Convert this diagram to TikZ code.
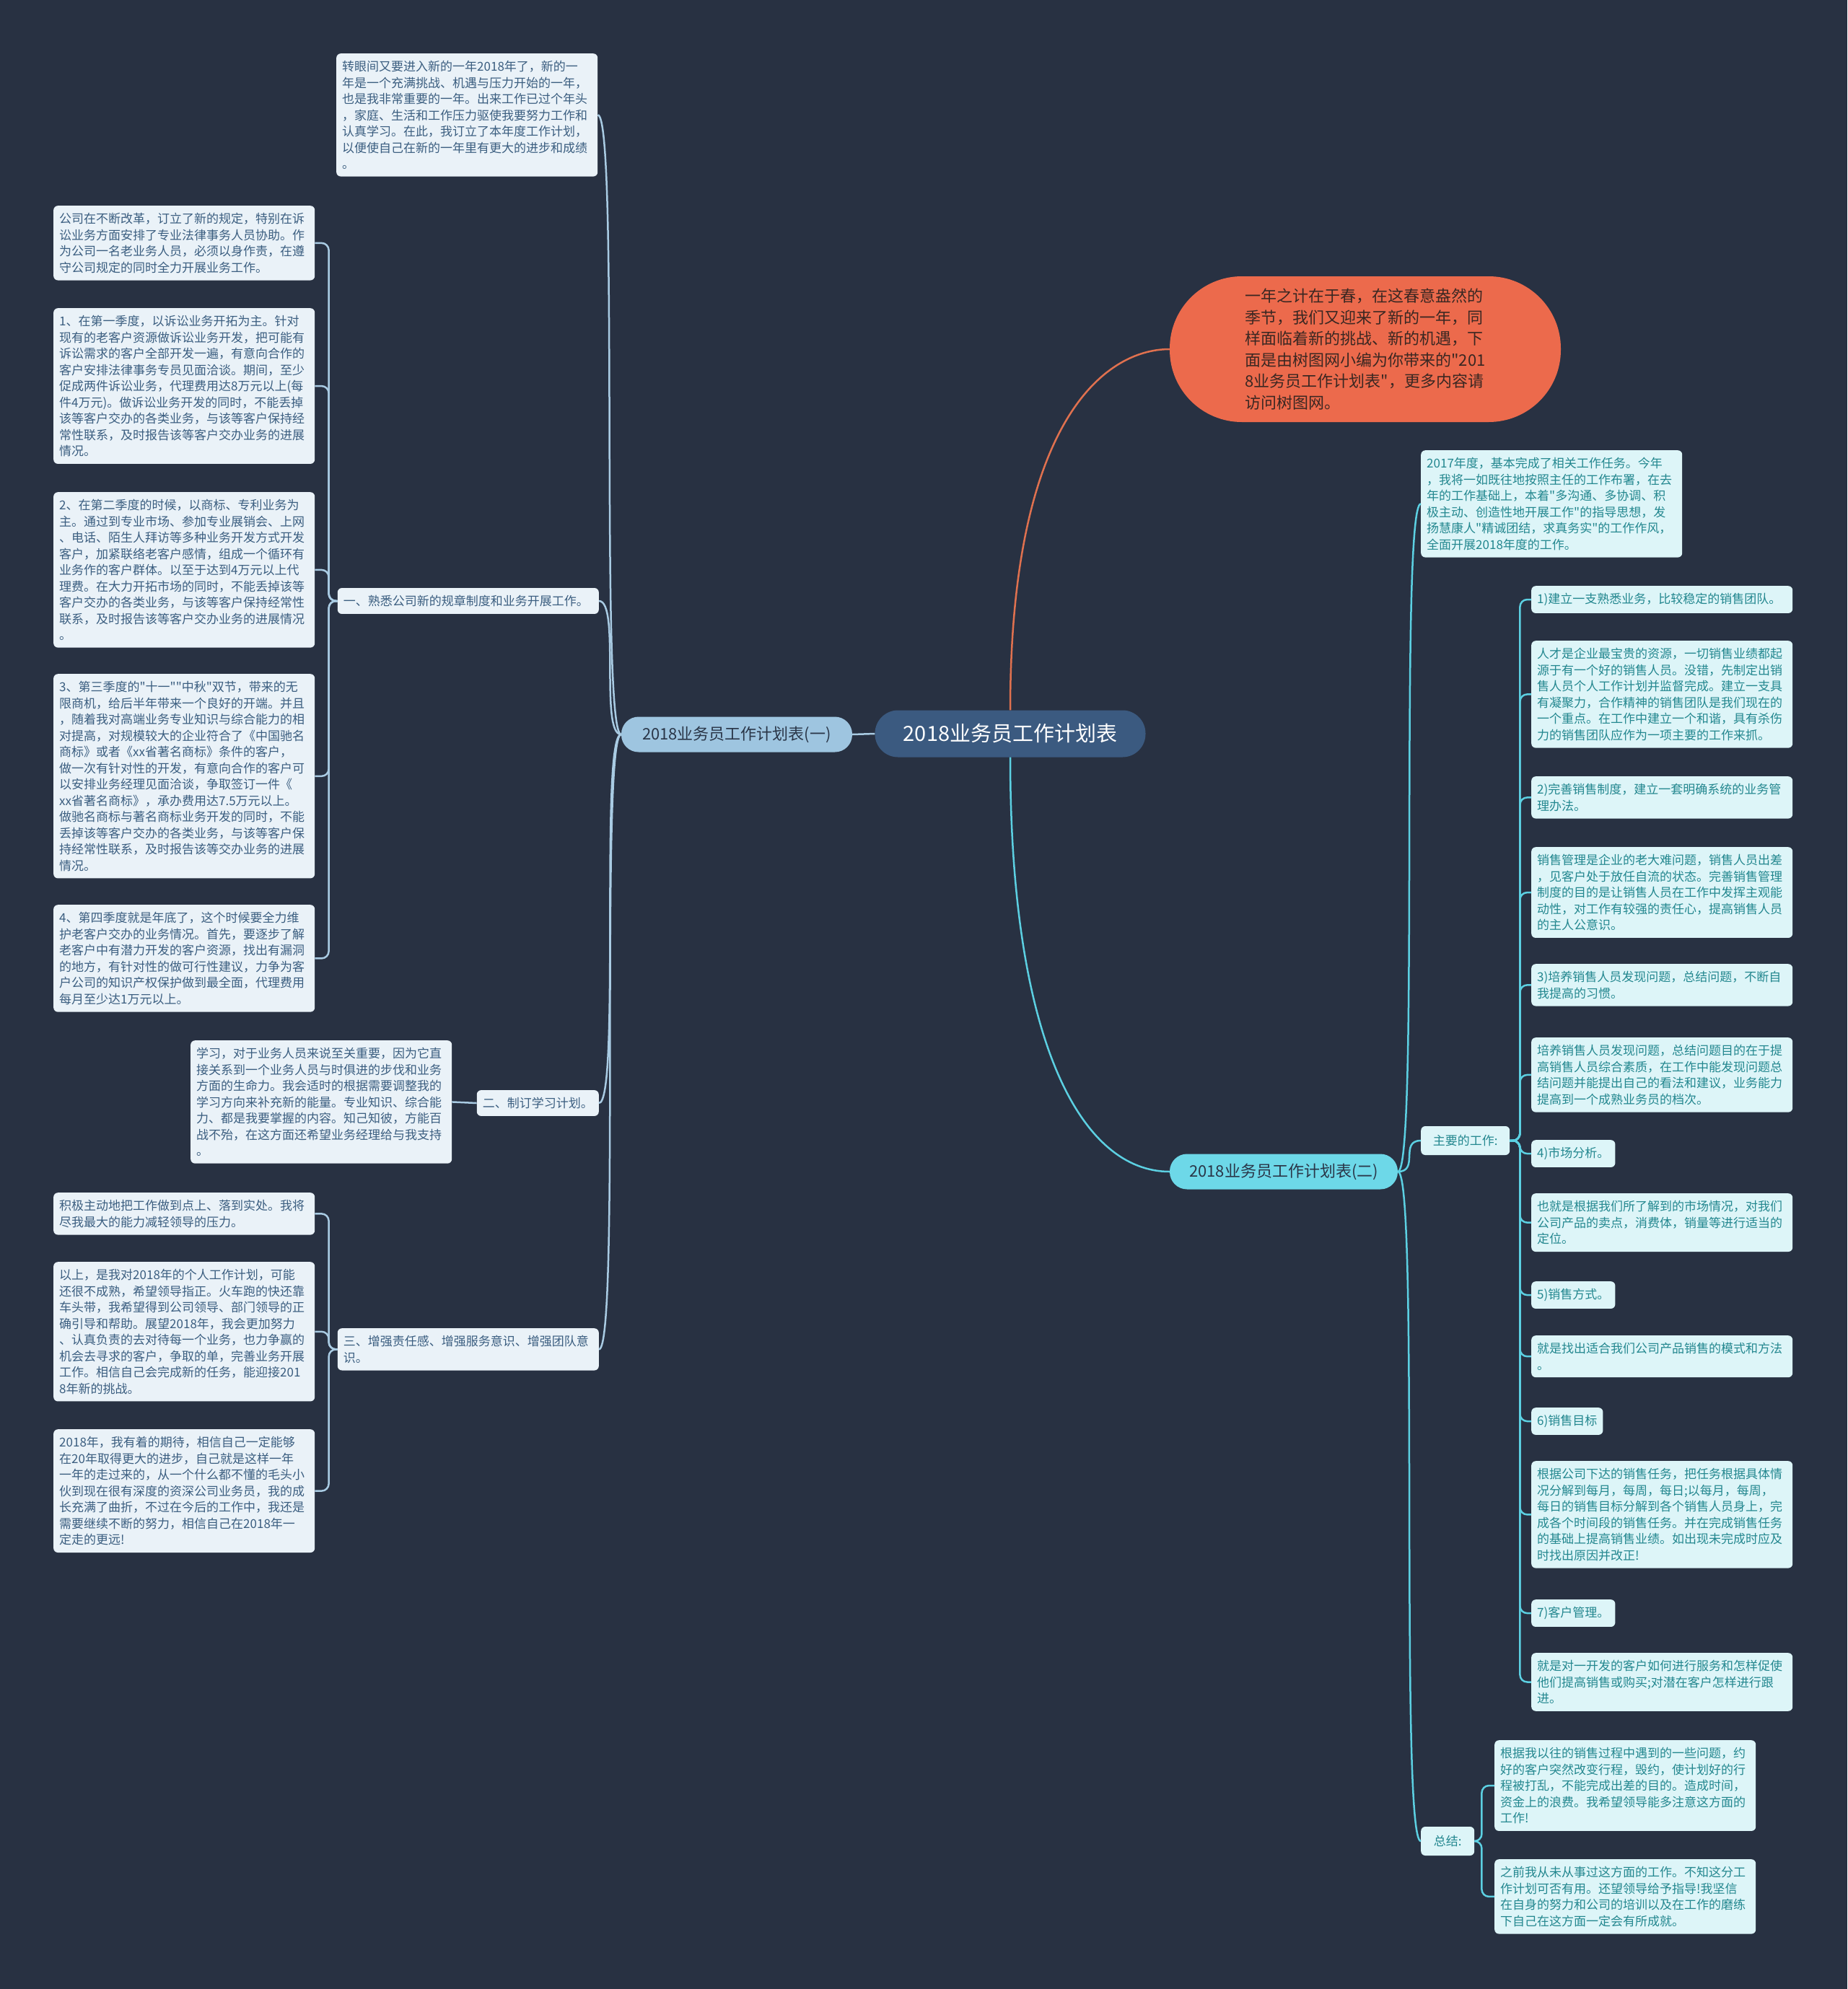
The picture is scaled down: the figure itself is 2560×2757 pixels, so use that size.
\documentclass[tikz,border=0pt]{standalone}
\usepackage{fontspec}
\setmainfont{Noto Sans CJK SC}[Ligatures=TeXOff]
\usetikzlibrary{calc}
\setlength{\parindent}{0pt}

\definecolor{fondo}{HTML}{283142}
\definecolor{cajaizq}{HTML}{EAF2F8}
\definecolor{textoizq}{HTML}{3B5E80}
\definecolor{lineaizq}{HTML}{A9CBE3}
\definecolor{cajader}{HTML}{DDF5F8}
\definecolor{textoder}{HTML}{23878F}
\definecolor{lineader}{HTML}{5CD0E2}
\definecolor{colraiz}{HTML}{3B5A80}
\definecolor{colrama1}{HTML}{9EC5E0}
\definecolor{colrama2}{HTML}{6DD8E8}
\definecolor{colnota}{HTML}{EC6A4C}
\definecolor{lineanota}{HTML}{E0714F}
\definecolor{textonota}{HTML}{3A2722}
\definecolor{textorama}{HTML}{2A3648}

\begin{document}
\begin{tikzpicture}[x=1pt, y=-1pt,
    % ====================
    % ESTILOS DE NODOS
    % ====================
    base_izq/.style={
        rectangle, rounded corners=6pt,
        fill=cajaizq, text=textoizq,
        align=left, font=\fontsize{17}{22.5}\selectfont,
        inner xsep=8pt, inner ysep=10pt
    },
    caja_izq/.style={base_izq, text width=346pt, anchor=north west},
    base_der/.style={
        rectangle, rounded corners=6pt,
        fill=cajader, text=textoder,
        align=left, font=\fontsize{17}{22.5}\selectfont,
        inner xsep=8pt, inner ysep=10pt
    },
    caja_der/.style={base_der, text width=346pt, anchor=north west},
    corta_der/.style={base_der, anchor=north west},
    etiqueta/.style={base_der, inner xsep=11pt, minimum height=40pt, anchor=west},
    raiz/.style={
        rectangle, rounded corners=32pt,
        fill=colraiz, text=white,
        font=\fontsize{29}{34}\selectfont,
        minimum width=375pt, minimum height=65pt
    },
    rama_uno/.style={
        rectangle, rounded corners=24pt,
        fill=colrama1, text=textorama,
        font=\fontsize{22}{26}\selectfont,
        minimum width=320pt, minimum height=49pt
    },
    rama_dos/.style={rama_uno, fill=colrama2, minimum width=316pt},
    nota/.style={
        rectangle, rounded corners=100pt,
        fill=colnota, text=textonota, align=left,
        font=\fontsize{22}{29.5}\selectfont,
        minimum width=542pt, minimum height=202pt
    },
    linea_izq/.style={draw=lineaizq, line width=2.5pt},
    linea_der/.style={draw=lineader, line width=2.5pt},
    linea_nota/.style={draw=lineanota, line width=2.5pt}
]

% ====================
% FONDO
% ====================
\fill[fondo] (0,0) rectangle (2560,2757);
\useasboundingbox (0,0) rectangle (2560,2757);

% ====================
% NODOS CENTRALES
% ====================
\node[raiz] (raiz) at (1400,1017) {2018业务员工作计划表};
\node[rama_uno] (B1) at (1021,1018) {2018业务员工作计划表(一)};
\node[rama_dos] (B2) at (1779,1624) {2018业务员工作计划表(二)};
\node[nota] (nota) at (1892,484) {一年之计在于春，在这春意盎然的\\
季节，我们又迎来了新的一年，同\\
样面临着新的挑战、新的机遇，下\\
面是由树图网小编为你带来的"201\\
8业务员工作计划表"，更多内容请\\
访问树图网。};

% ====================
% RAMA IZQUIERDA (x = 74 / 466)
% ====================
\node[caja_izq] (T0) at (466,74) {转眼间又要进入新的一年2018年了，新的一\\
年是一个充满挑战、机遇与压力开始的一年，\\
也是我非常重要的一年。出来工作已过个年头\\
，家庭、生活和工作压力驱使我要努力工作和\\
认真学习。在此，我订立了本年度工作计划，\\
以便使自己在新的一年里有更大的进步和成绩\\
。};

\node[caja_izq, anchor=east] (M1) at (830,833) {一、熟悉公司新的规章制度和业务开展工作。};
\node[base_izq, anchor=east] (M2) at (830,1529) {二、制订学习计划。};
\node[caja_izq, anchor=north east] (M3) at (830,1841) {三、增强责任感、增强服务意识、增强团队意\\
识。};

\node[caja_izq] (L1) at (74,285) {公司在不断改革，订立了新的规定，特别在诉\\
讼业务方面安排了专业法律事务人员协助。作\\
为公司一名老业务人员，必须以身作责，在遵\\
守公司规定的同时全力开展业务工作。};
\node[caja_izq] (L2) at (74,427) {1、在第一季度，以诉讼业务开拓为主。针对\\
现有的老客户资源做诉讼业务开发，把可能有\\
诉讼需求的客户全部开发一遍，有意向合作的\\
客户安排法律事务专员见面洽谈。期间，至少\\
促成两件诉讼业务，代理费用达8万元以上(每\\
件4万元)。做诉讼业务开发的同时，不能丢掉\\
该等客户交办的各类业务，与该等客户保持经\\
常性联系，及时报告该等客户交办业务的进展\\
情况。};
\node[caja_izq] (L3) at (74,682) {2、在第二季度的时候，以商标、专利业务为\\
主。通过到专业市场、参加专业展销会、上网\\
、电话、陌生人拜访等多种业务开发方式开发\\
客户，加紧联络老客户感情，组成一个循环有\\
业务作的客户群体。以至于达到4万元以上代\\
理费。在大力开拓市场的同时，不能丢掉该等\\
客户交办的各类业务，与该等客户保持经常性\\
联系，及时报告该等客户交办业务的进展情况\\
。};
\node[caja_izq] (L4) at (74,934) {3、第三季度的"十一""中秋"双节，带来的无\\
限商机，给后半年带来一个良好的开端。并且\\
，随着我对高端业务专业知识与综合能力的相\\
对提高，对规模较大的企业符合了《中国驰名\\
商标》或者《xx省著名商标》条件的客户，\\
做一次有针对性的开发，有意向合作的客户可\\
以安排业务经理见面洽谈，争取签订一件《\\
xx省著名商标》，承办费用达7.5万元以上。\\
做驰名商标与著名商标业务开发的同时，不能\\
丢掉该等客户交办的各类业务，与该等客户保\\
持经常性联系，及时报告该等交办业务的进展\\
情况。};
\node[caja_izq] (L5) at (74,1254) {4、第四季度就是年底了，这个时候要全力维\\
护老客户交办的业务情况。首先，要逐步了解\\
老客户中有潜力开发的客户资源，找出有漏洞\\
的地方，有针对性的做可行性建议，力争为客\\
户公司的知识产权保护做到最全面，代理费用\\
每月至少达1万元以上。};

\node[caja_izq] (L6) at (264,1442) {学习，对于业务人员来说至关重要，因为它直\\
接关系到一个业务人员与时俱进的步伐和业务\\
方面的生命力。我会适时的根据需要调整我的\\
学习方向来补充新的能量。专业知识、综合能\\
力、都是我要掌握的内容。知己知彼，方能百\\
战不殆，在这方面还希望业务经理给与我支持\\
。};

\node[caja_izq] (L7) at (74,1653) {积极主动地把工作做到点上、落到实处。我将\\
尽我最大的能力减轻领导的压力。};
\node[caja_izq] (L8) at (74,1749) {以上，是我对2018年的个人工作计划，可能\\
还很不成熟，希望领导指正。火车跑的快还靠\\
车头带，我希望得到公司领导、部门领导的正\\
确引导和帮助。展望2018年，我会更加努力\\
、认真负责的去对待每一个业务，也力争赢的\\
机会去寻求的客户，争取的单，完善业务开展\\
工作。相信自己会完成新的任务，能迎接201\\
8年新的挑战。};
\node[caja_izq] (L9) at (74,1981) {2018年，我有着的期待，相信自己一定能够\\
在20年取得更大的进步，自己就是这样一年\\
一年的走过来的，从一个什么都不懂的毛头小\\
伙到现在很有深度的资深公司业务员，我的成\\
长充满了曲折，不过在今后的工作中，我还是\\
需要继续不断的努力，相信自己在2018年一\\
定走的更远!};

% ====================
% RAMA DERECHA (x = 1969 / 2122)
% ====================
\node[caja_der] (R0) at (1969,624) {2017年度，基本完成了相关工作任务。今年\\
，我将一如既往地按照主任的工作布署，在去\\
年的工作基础上，本着"多沟通、多协调、积\\
极主动、创造性地开展工作"的指导思想，发\\
扬慧康人"精诚团结，求真务实"的工作作风，\\
全面开展2018年度的工作。};

\node[etiqueta, minimum width=123pt] (K1) at (1969,1581) {主要的工作:};
\node[etiqueta, minimum width=74pt] (K2) at (1969,2552) {总结:};

\node[caja_der] (R1) at (2122,812) {1)建立一支熟悉业务，比较稳定的销售团队。};
\node[caja_der] (R2) at (2122,888) {人才是企业最宝贵的资源，一切销售业绩都起\\
源于有一个好的销售人员。没错，先制定出销\\
售人员个人工作计划并监督完成。建立一支具\\
有凝聚力，合作精神的销售团队是我们现在的\\
一个重点。在工作中建立一个和谐，具有杀伤\\
力的销售团队应作为一项主要的工作来抓。};
\node[caja_der] (R3) at (2122,1076) {2)完善销售制度，建立一套明确系统的业务管\\
理办法。};
\node[caja_der] (R4) at (2122,1174) {销售管理是企业的老大难问题，销售人员出差\\
，见客户处于放任自流的状态。完善销售管理\\
制度的目的是让销售人员在工作中发挥主观能\\
动性，对工作有较强的责任心，提高销售人员\\
的主人公意识。};
\node[caja_der] (R5) at (2122,1336) {3)培养销售人员发现问题，总结问题，不断自\\
我提高的习惯。};
\node[caja_der] (R6) at (2122,1438) {培养销售人员发现问题，总结问题目的在于提\\
高销售人员综合素质，在工作中能发现问题总\\
结问题并能提出自己的看法和建议，业务能力\\
提高到一个成熟业务员的档次。};
\node[corta_der] (R7) at (2122,1580) {4)市场分析。};
\node[caja_der] (R8) at (2122,1654) {也就是根据我们所了解到的市场情况，对我们\\
公司产品的卖点，消费体，销量等进行适当的\\
定位。};
\node[corta_der] (R9) at (2122,1776) {5)销售方式。};
\node[caja_der] (R10) at (2122,1851) {就是找出适合我们公司产品销售的模式和方法\\
。};
\node[corta_der] (R11) at (2122,1951) {6)销售目标};
\node[caja_der] (R12) at (2122,2025) {根据公司下达的销售任务，把任务根据具体情\\
况分解到每月，每周，每日;以每月，每周，\\
每日的销售目标分解到各个销售人员身上，完\\
成各个时间段的销售任务。并在完成销售任务\\
的基础上提高销售业绩。如出现未完成时应及\\
时找出原因并改正!};
\node[corta_der] (R13) at (2122,2217) {7)客户管理。};
\node[caja_der] (R14) at (2122,2291) {就是对一开发的客户如何进行服务和怎样促使\\
他们提高销售或购买;对潜在客户怎样进行跟\\
进。};

\node[caja_der] (S1) at (2071,2412) {根据我以往的销售过程中遇到的一些问题，约\\
好的客户突然改变行程，毁约，使计划好的行\\
程被打乱，不能完成出差的目的。造成时间，\\
资金上的浪费。我希望领导能多注意这方面的\\
工作!};
\node[caja_der] (S2) at (2071,2577) {之前我从未从事过这方面的工作。不知这分工\\
作计划可否有用。还望领导给予指导!我坚信\\
在自身的努力和公司的培训以及在工作的磨练\\
下自己在这方面一定会有所成就。};

% ====================
% CONEXIONES
% ====================

% Centro a ramas
\draw[linea_izq] (raiz.west) -- (B1.east);
\draw[linea_nota] (raiz.north) .. controls +(0,-400) and +(-90,0) .. (nota.west);
\draw[linea_der] (raiz.south) .. controls +(0,400) and +(-120,0) .. (B2.west);

% Rama (一) a sus hijos
\foreach \hijo in {T0, M1, M2, M3}
    \draw[linea_izq] (B1.west) .. controls +(-30,0) and +(30,0) .. (\hijo.east);

% Hijos de M1
\foreach \hijo in {L1, L2, L3, L4, L5}
    \draw[linea_izq, rounded corners=10pt] (M1.west) -- ++(-12,0) |- (\hijo.east);

\draw[linea_izq] (M2.west) -- (L6.east);

% Hijos de M3
\foreach \hijo in {L7, L8, L9}
    \draw[linea_izq, rounded corners=10pt] (M3.west) -- ++(-12,0) |- (\hijo.east);

% Rama (二) a sus hijos
\foreach \hijo in {R0, K1, K2}
    \draw[linea_der] (B2.east) .. controls +(30,0) and +(-30,0) .. (\hijo.west);

% Trabajo principal
\foreach \hijo in {R1, R2, R3, R4, R5, R6, R7, R8, R9, R10, R11, R12, R13, R14}
    \draw[linea_der, rounded corners=10pt] (K1.east) -- ++(14,0) |- (\hijo.west);

% Resumen
\foreach \hijo in {S1, S2}
    \draw[linea_der, rounded corners=10pt] (K2.east) -- ++(10,0) |- (\hijo.west);

\end{tikzpicture}
\end{document}
